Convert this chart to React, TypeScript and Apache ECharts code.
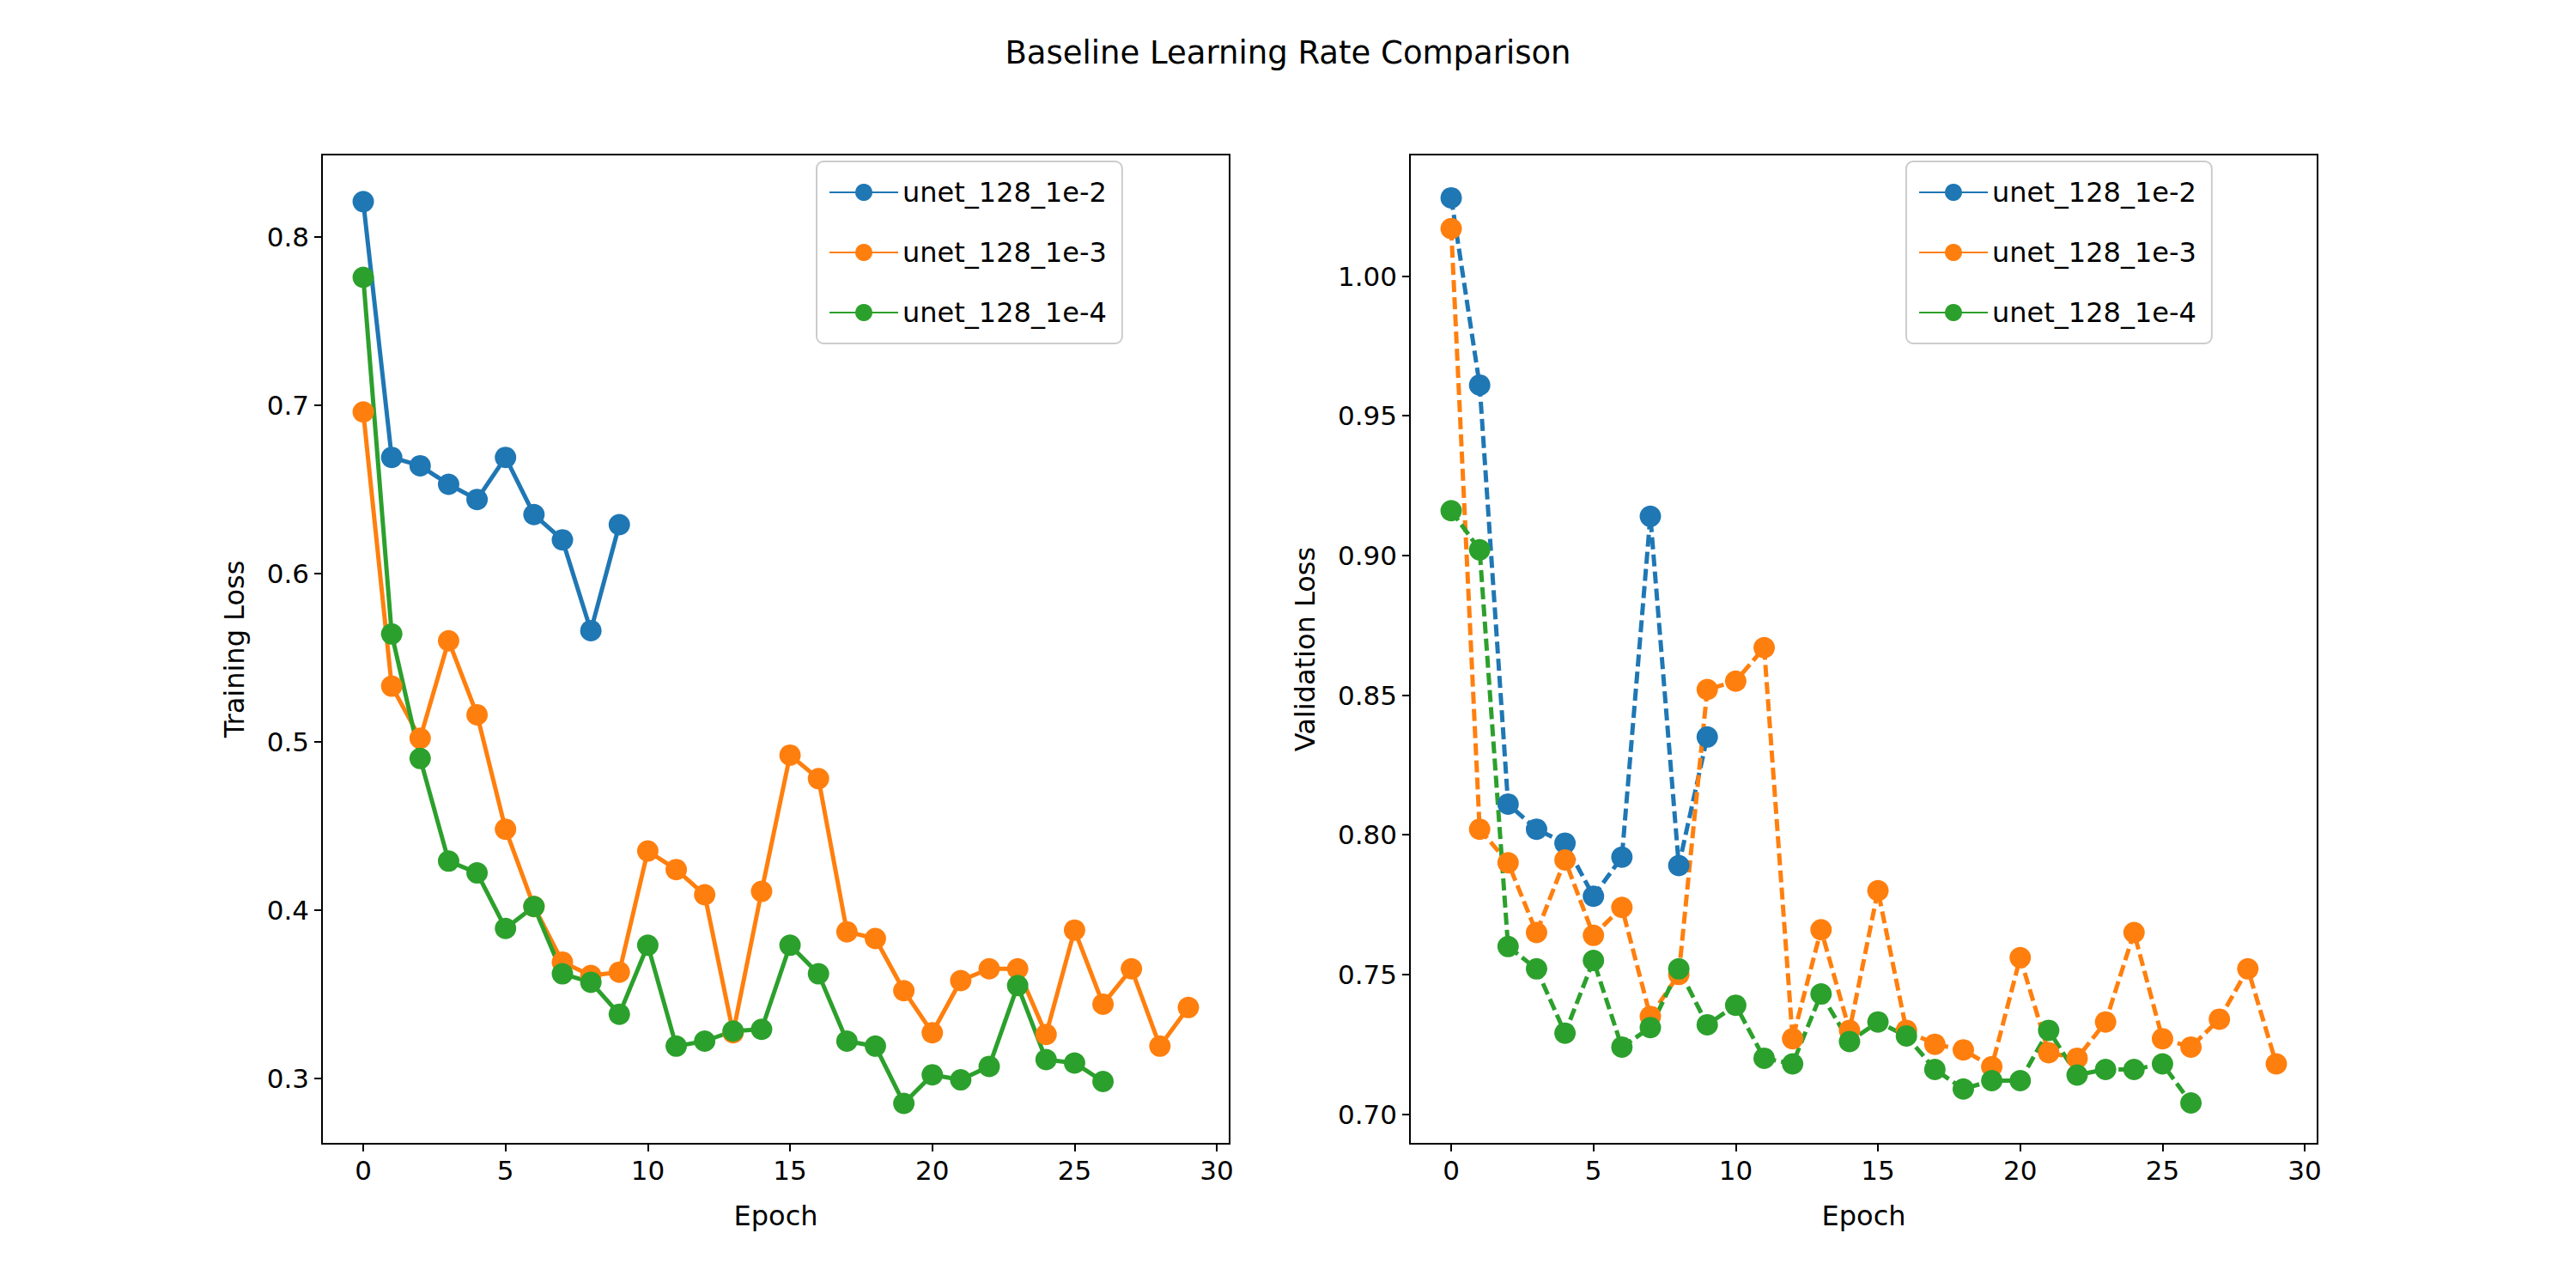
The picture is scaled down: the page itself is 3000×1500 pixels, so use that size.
import React, { useEffect, useRef } from "react";
import * as echarts from "echarts";

const seriesNames = ["unet_128_1e-2", "unet_128_1e-3", "unet_128_1e-4"];
const colors = ["#1f77b4", "#ff7f0e", "#2ca02c"];
const xTicks = [0, 5, 10, 15, 20, 25, 30];
const trainTicks = [0.3, 0.4, 0.5, 0.6, 0.7, 0.8];
const valTicks = [0.7, 0.75, 0.8, 0.85, 0.9, 0.95, 1.0];

const train1e2 = [0.821, 0.669, 0.664, 0.653, 0.644, 0.669, 0.635, 0.620, 0.566, 0.629];
const train1e3 = [0.696, 0.533, 0.502, 0.560, 0.516, 0.448, 0.402, 0.369, 0.361, 0.363, 0.435, 0.424, 0.409, 0.327, 0.411, 0.492, 0.478, 0.387, 0.383, 0.352, 0.327, 0.358, 0.365, 0.365, 0.326, 0.388, 0.344, 0.365, 0.319, 0.342];
const train1e4 = [0.776, 0.564, 0.490, 0.429, 0.422, 0.389, 0.402, 0.362, 0.357, 0.338, 0.379, 0.319, 0.322, 0.328, 0.329, 0.379, 0.362, 0.322, 0.319, 0.285, 0.302, 0.299, 0.307, 0.355, 0.311, 0.309, 0.298];

const val1e2 = [1.028, 0.961, 0.811, 0.802, 0.797, 0.778, 0.792, 0.914, 0.789, 0.835];
const val1e3 = [1.017, 0.802, 0.790, 0.765, 0.791, 0.764, 0.774, 0.735, 0.750, 0.852, 0.855, 0.867, 0.727, 0.766, 0.730, 0.780, 0.730, 0.725, 0.723, 0.717, 0.756, 0.722, 0.720, 0.733, 0.765, 0.727, 0.724, 0.734, 0.752, 0.718];
const val1e4 = [0.916, 0.902, 0.760, 0.752, 0.729, 0.755, 0.724, 0.731, 0.752, 0.732, 0.739, 0.720, 0.718, 0.743, 0.726, 0.733, 0.728, 0.716, 0.709, 0.712, 0.712, 0.730, 0.714, 0.716, 0.716, 0.718, 0.704];

const font = "DejaVu Sans";

const App: React.FC = () => {
    const chartRef = useRef<HTMLDivElement>(null);

    useEffect(() => {
        if (!chartRef.current) return;
        const chart = echarts.init(chartRef.current, undefined, { renderer: "svg" });

        const xAxis = (gridIndex: number) => ({
            type: "value" as const,
            gridIndex,
            min: -1.45,
            max: 30.45,
            name: "Epoch",
            nameLocation: "middle" as const,
            nameGap: 68,
            nameTextStyle: { fontSize: 32, color: "#000", fontFamily: font },
            axisLine: { show: true, onZero: false, lineStyle: { color: "#000", width: 2 } },
            axisTick: { show: true, length: 9, lineStyle: { color: "#000", width: 2 }, customValues: xTicks },
            axisLabel: { fontSize: 31, color: "#000", fontFamily: font, margin: 15, customValues: xTicks },
            splitLine: { show: false },
        });

        const yAxis = (gridIndex: number, min: number, max: number, ticks: number[], name: string, digits: number) => ({
            type: "value" as const,
            gridIndex,
            min,
            max,
            name,
            nameLocation: "middle" as const,
            nameGap: digits === 1 ? 86 : 106,
            nameTextStyle: { fontSize: 32, color: "#000", fontFamily: font },
            axisLine: { show: true, onZero: false, lineStyle: { color: "#000", width: 2 } },
            axisTick: { show: true, length: 9, lineStyle: { color: "#000", width: 2 }, customValues: ticks },
            axisLabel: {
                fontSize: 31, color: "#000", fontFamily: font, margin: 15, customValues: ticks,
                formatter: (v: number) => v.toFixed(digits),
            },
            splitLine: { show: false },
        });

        const mk = (data: number[], i: number, grid: number, dashed: boolean) => ({
            type: "line" as const,
            name: seriesNames[i],
            xAxisIndex: grid,
            yAxisIndex: grid,
            data: data.map((v, k) => [k, v]),
            symbol: "circle",
            symbolSize: 25,
            color: colors[i],
            lineStyle: { width: 5, color: colors[i], type: dashed ? [14, 6] : "solid" },
            itemStyle: { color: colors[i] },
        });

        const legend = (left: number) => ({
            data: seriesNames,
            left,
            top: 180,
            orient: "vertical" as const,
            itemWidth: 80,
            itemHeight: 25,
            itemGap: 38,
            padding: [20, 18, 20, 14],
            backgroundColor: "#fff",
            borderColor: "#ccc",
            borderWidth: 2,
            borderRadius: 8,
            selectedMode: false,
            textStyle: { fontSize: 32, color: "#000", fontFamily: font },
        });

        chart.setOption({
            animation: false,
            backgroundColor: "#fff",
            title: {
                text: "Baseline Learning Rate Comparison",
                left: "center",
                top: 30,
                textStyle: { fontSize: 37, fontWeight: "normal", color: "#000", fontFamily: font },
            },
            grid: [
                { left: 367, top: 172, width: 1057, height: 1152, show: true, borderColor: "#000", borderWidth: 2 },
                { left: 1634, top: 172, width: 1057, height: 1152, show: true, borderColor: "#000", borderWidth: 2 },
            ],
            legend: [legend(943), legend(2212)],
            xAxis: [xAxis(0), xAxis(1)],
            yAxis: [
                yAxis(0, 0.261, 0.849, trainTicks, "Training Loss", 1),
                yAxis(1, 0.6894, 1.0435, valTicks, "Validation Loss", 2),
            ],
            series: [
                mk(train1e2, 0, 0, false),
                mk(train1e3, 1, 0, false),
                mk(train1e4, 2, 0, false),
                mk(val1e2, 0, 1, true),
                mk(val1e3, 1, 1, true),
                mk(val1e4, 2, 1, true),
            ],
        });

        return () => chart.dispose();
    }, []);

    return <div ref={chartRef} style={{ width: 2984, height: 1484 }} />;
};

export default App;
